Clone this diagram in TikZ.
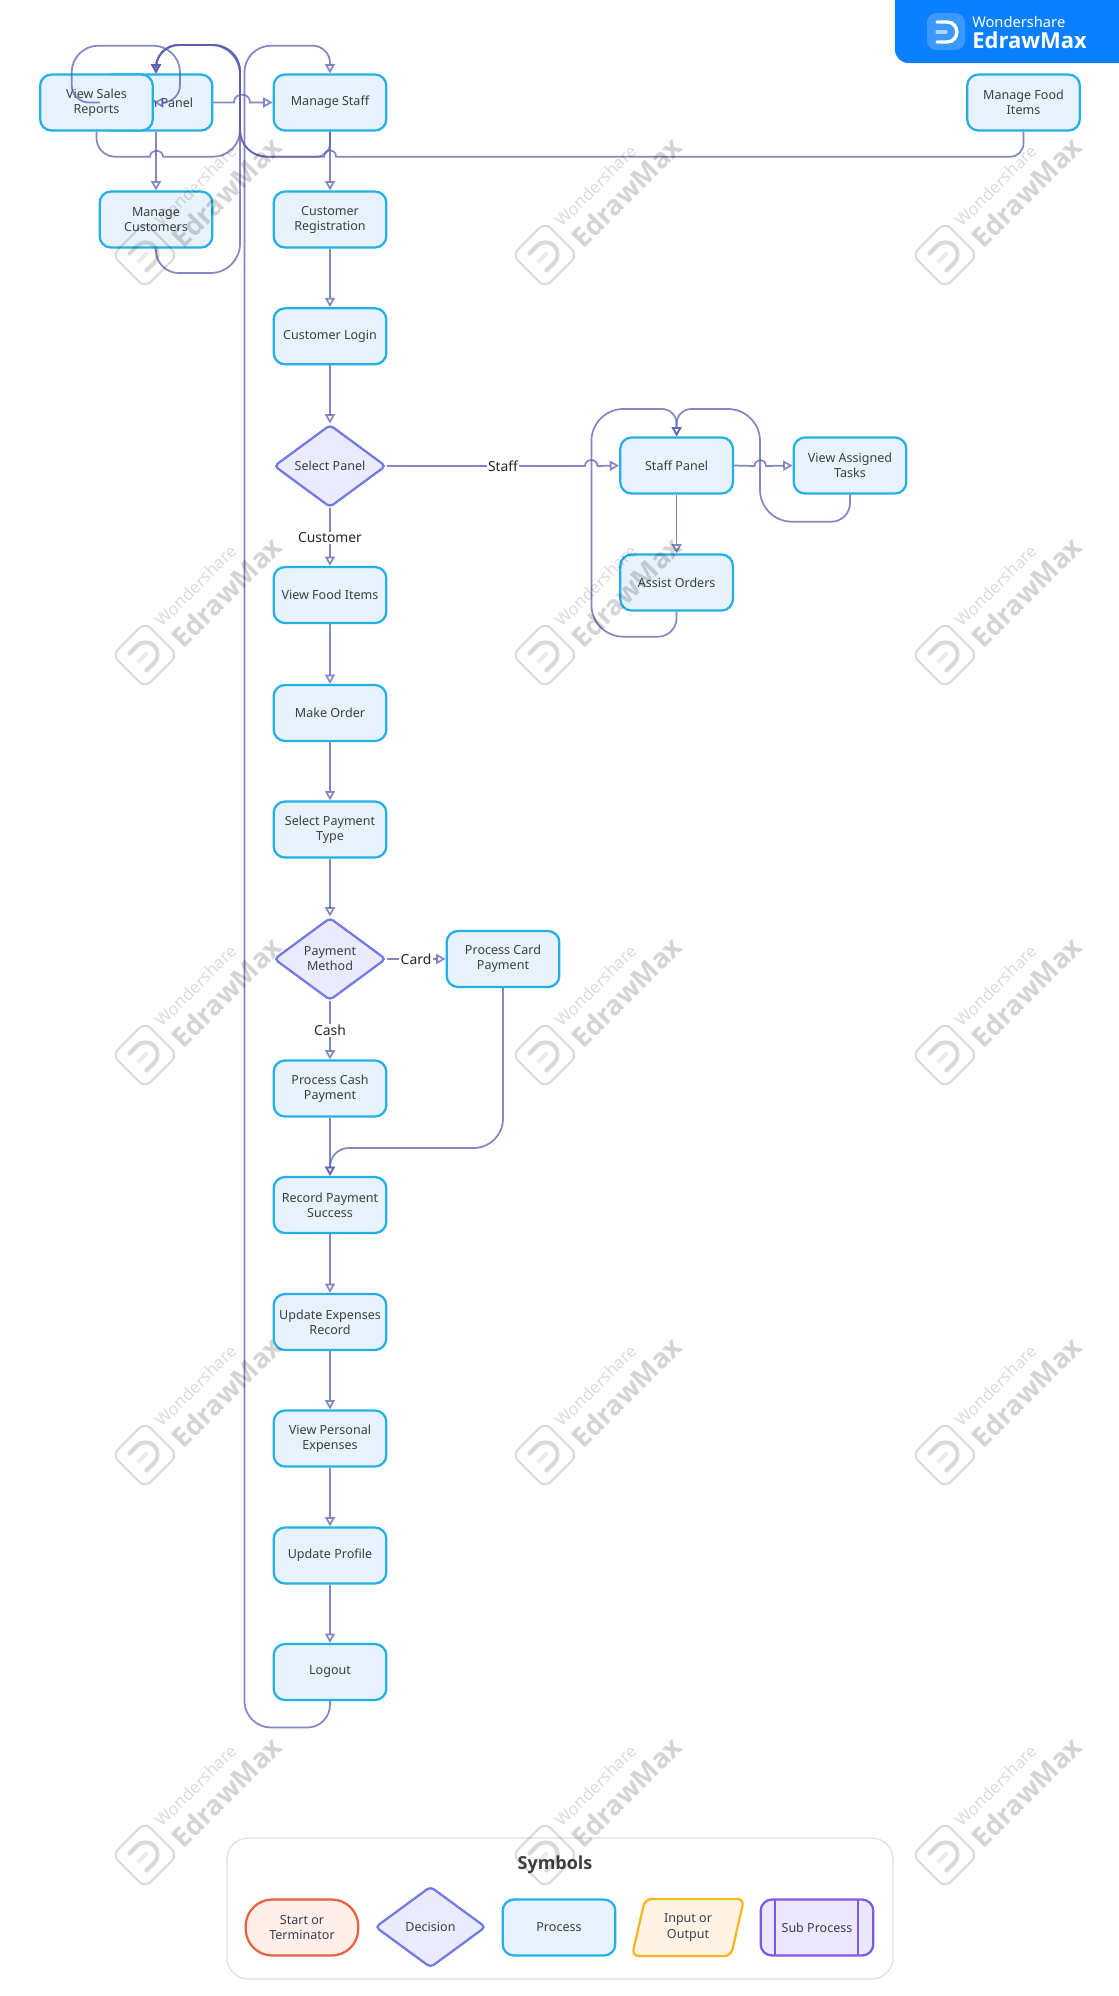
\documentclass[tikz,border=0pt]{standalone}
\usepackage{fontspec}
\setmainfont{Noto Sans}
\newfontfamily\hvy{Open Sans}
\usetikzlibrary{arrows.meta,shapes.geometric}
\definecolor{txt}{HTML}{3A3F4A}
\definecolor{ln}{HTML}{5A5FAE}
\definecolor{pf}{HTML}{E8F2FC}\definecolor{ps}{HTML}{22B0E6}
\definecolor{df}{HTML}{ECEBFD}\definecolor{ds}{HTML}{6F7BE0}
\definecolor{tf}{HTML}{FFEEE9}\definecolor{ts}{HTML}{E8623D}
\definecolor{iof}{HTML}{FFF3E6}\definecolor{ios}{HTML}{FBB61E}
\definecolor{sf}{HTML}{EBE7FC}\definecolor{ss}{HTML}{7B5BE6}
\definecolor{brand}{HTML}{0A7FFF}
\tikzset{
 x=0.75pt,y=-0.75pt,
 base/.style={align=center,text=txt,font=\fontsize{9.4}{11.3}\selectfont,line width=1.7pt,inner sep=0pt,execute at begin node={\vspace*{5pt}}},
 proc/.style={base,draw=ps,fill=pf,rounded corners=8.5pt,minimum width=84.5pt,minimum height=42pt},
 dec/.style={base,shape=diamond,draw=ds,fill=df,rounded corners=3pt,minimum width=84pt,minimum height=62pt,aspect=1.35},
 term/.style={base,draw=ts,fill=tf,rounded corners=20pt,minimum width=84.5pt,minimum height=42pt},
 subp/.style={base,draw=ss,fill=sf,rounded corners=8.5pt,minimum width=84.5pt,minimum height=42pt},
 conn/.style={draw=ln,draw opacity=.74,line width=1.3pt},
 arr/.style={conn,-{Triangle[open,length=7pt,width=7.5pt]}},
 lbl/.style={fill=white,inner sep=1pt,text=black!85,font=\fontsize{10.4}{12}\selectfont},
 wmark/.pic={
  \draw[black,draw opacity=.15,line width=1.5pt,rounded corners=6pt] (-23,-23) rectangle (23,23);
  \draw[black,draw opacity=.15,line width=3pt,line cap=round] (-10,12) -- (1,12) arc[start angle=90,end angle=-90,radius=9pt] -- (-10,-12);
  \draw[black,draw opacity=.08,line width=3pt,line cap=round] (-9,0) -- (2,0);
  \node[transform shape,text=black,text opacity=.14,font=\fontsize{12.6}{14}\selectfont,inner sep=0pt] (w) at (85,13) {Wondershare};
  \node[transform shape,text=black,text opacity=.17,font=\hvy\fontsize{20.5}{24}\selectfont\bfseries,inner sep=0pt] (e) at (102,-13) {EdrawMax};
 },
}
\begin{document}
\begin{tikzpicture}
\useasboundingbox (0,0) rectangle (1119,1996);
\fill[white] (0,0) rectangle (1119,1996);

% header badge
\fill[brand,rounded corners=10pt] (895,-30) rectangle (1149,63);
\fill[white,opacity=.2,rounded corners=7pt] (927,13) rectangle (965,50);
\draw[white,line width=2.6pt,line cap=round] (937,22) -- (947,22) .. controls (960,22) and (960,42) .. (947,42) -- (937,42);
\draw[white,opacity=.6,line width=2.4pt,line cap=round] (937,32) -- (946,32);
\node[anchor=west,text=white,inner sep=0pt,font=\fontsize{11}{13}\selectfont] (ws) at (972,22) {Wondershare};
\node[anchor=west,text=white,inner sep=0pt,font=\hvy\fontsize{16.5}{20}\selectfont\bfseries] (em) at (972,40) {EdrawMax};

% nodes
\node[proc] (adm) at (156,102.5) {Admin Panel};
\node[proc] (vs) at (96.5,102.5) {View Sales\\Reports};
\node[proc] (mst) at (330,102.5) {Manage Staff};
\node[proc] (mfi) at (1023.5,102.5) {Manage Food\\Items};
\node[proc] (mcu) at (156,219.5) {Manage\\Customers};
\node[proc] (reg) at (330,219.5) {Customer\\Registration};
\node[proc] (log) at (330,336.3) {Customer Login};
\node[dec] (sel) at (330,466) {Select Panel};
\node[proc] (stf) at (676.6,465.5) {Staff Panel};
\node[proc] (vat) at (850,465.5) {View Assigned\\Tasks};
\node[proc] (aso) at (676.6,582.5) {Assist Orders};
\node[proc] (vfi) at (330,595) {View Food Items};
\node[proc] (mko) at (330,713) {Make Order};
\node[proc] (spt) at (330,829.5) {Select Payment\\Type};
\node[dec] (pay) at (330,959) {Payment\\Method};
\node[proc] (pcd) at (503,959) {Process Card\\Payment};
\node[proc] (pch) at (330,1088.5) {Process Cash\\Payment};
\node[proc] (rec) at (330,1205) {Record Payment\\Success};
\node[proc] (upe) at (330,1322) {Update Expenses\\Record};
\node[proc] (vpe) at (330,1438.5) {View Personal\\Expenses};
\node[proc] (upp) at (330,1555.5) {Update Profile};
\node[proc] (lgo) at (330,1672) {Logout};

% connectors
\draw[arr] (adm.east) -- (234,102.5) .. controls (234,92) and (250,92) .. (250,102.5) -- (mst.west);
\draw[arr] (adm.south) -- (mcu.north);
\draw[arr,rounded corners=13pt] (100,102.5) -- (71.7,102.5) [rounded corners=20pt] -- (71.7,45.7) -- (180,45.7) [rounded corners=13pt] -- (180,102.5) -- (vs.east);
\draw[arr] (vs.south) [rounded corners=14pt] -- (96.5,156.7) [sharp corners] -- (150,156.7) .. controls (150,149) and (163,149) .. (163,156.7) [rounded corners=20pt] -- (240,156.7) -- (240,45) [rounded corners=17pt] -- (156,45) -- (adm.north);
\draw[arr] (mcu.south) [rounded corners=17pt] -- (156,273) [rounded corners=22pt] -- (240,273) -- (240,45) [rounded corners=17pt] -- (156,45) -- (adm.north);
\draw[arr] (mst.south) [rounded corners=10pt] -- (330,156.7) [rounded corners=20pt] -- (240,156.7) -- (240,45) [rounded corners=17pt] -- (156,45) -- (adm.north);
\draw[arr] (mfi.south) [rounded corners=10pt] -- (1023.5,156.7) [sharp corners] -- (336,156.7) .. controls (336,148) and (324,148) .. (324,156.7) [rounded corners=20pt] -- (240,156.7) -- (240,45) [rounded corners=17pt] -- (156,45) -- (adm.north);
\draw[arr] (lgo.south) [rounded corners=17pt] -- (330,1727.5) [rounded corners=20pt] -- (244.4,1727.5) -- (244.4,45.7) [rounded corners=13pt] -- (330,45.7) -- (mst.north);
\draw[arr] (mst.south) -- (reg.north);
\draw[arr] (reg.south) -- (log.north);
\draw[arr] (log.south) -- (sel.north);
\draw[arr] (sel.south) -- (vfi.north);
\draw[arr] (sel.east) -- (585,466) .. controls (585,458) and (597.5,458) .. (597.5,466) -- (stf.west);
\draw[arr] (stf.east) -- (754.6,466) .. controls (754.6,458) and (766,458) .. (766,466) -- (vat.west);
\draw[arr] (stf.south) -- (aso.north);
\draw[arr] (aso.south) [rounded corners=14pt] -- (676.6,636.7) [rounded corners=24pt] -- (591.4,636.7) -- (591.4,409) [rounded corners=11pt] -- (676.6,409) -- (stf.north);
\draw[arr] (vat.south) [rounded corners=14pt] -- (850,521.7) [rounded corners=24pt] -- (760,521.7) -- (760,409) [rounded corners=11pt] -- (676.6,409) -- (stf.north);
\draw[arr] (vfi.south) -- (mko.north);
\draw[arr] (mko.south) -- (spt.north);
\draw[arr] (spt.south) -- (pay.north);
\draw[arr] (pay.east) -- (pcd.west);
\draw[arr] (pay.south) -- (pch.north);
\draw[arr] (pch.south) -- (rec.north);
\draw[arr] (pcd.south) [rounded corners=22pt] -- (503,1148) [rounded corners=14pt] -- (330,1148) -- (rec.north);
\draw[arr] (rec.south) -- (upe.north);
\draw[arr] (upe.south) -- (vpe.north);
\draw[arr] (vpe.south) -- (upp.north);
\draw[arr] (upp.south) -- (lgo.north);

% labels
\node[lbl] (lstaff) at (503,466.5) {Staff};
\node[lbl] (lcust) at (330,538) {Customer};
\node[lbl] (lcard) at (416,959.5) {Card};
\node[lbl] (lcash) at (330,1030.5) {Cash};

% legend
\draw[draw=black!12,fill=white,line width=.9pt,rounded corners=16pt] (227,1838) rectangle (893,1979);
\node[text=black!75,inner sep=0pt,font=\hvy\fontsize{13.5}{16}\selectfont\bfseries] (sym) at (555,1865) {Symbols};
\node[term] (k1) at (302,1927.5) {Start or\\Terminator};
\node[dec,minimum width=83pt,minimum height=61pt] (k2) at (430.5,1927) {Decision};
\node[proc] (k3) at (559,1927.5) {Process};
\draw[draw=ios,fill=iof,line width=1.7pt,rounded corners=5pt] (645,1899) -- (744,1899) -- (731,1956) -- (632,1956) -- cycle;
\node[base] (k4) at (688,1927.5) {Input or\\Output};
\node[subp] (k5) at (817,1927.5) {Sub Process};
\draw[draw=ss,line width=1.7pt] (775,1899) -- (775,1956);
\draw[draw=ss,line width=1.7pt] (858,1899) -- (858,1956);

% watermarks
\foreach \wx in {145,545,945}
 \foreach \wy in {255,655,1055,1455,1855}
  \path (\wx,\wy) pic[rotate=45,x=.75pt,y=.75pt] {wmark};
\end{tikzpicture}
\end{document}
